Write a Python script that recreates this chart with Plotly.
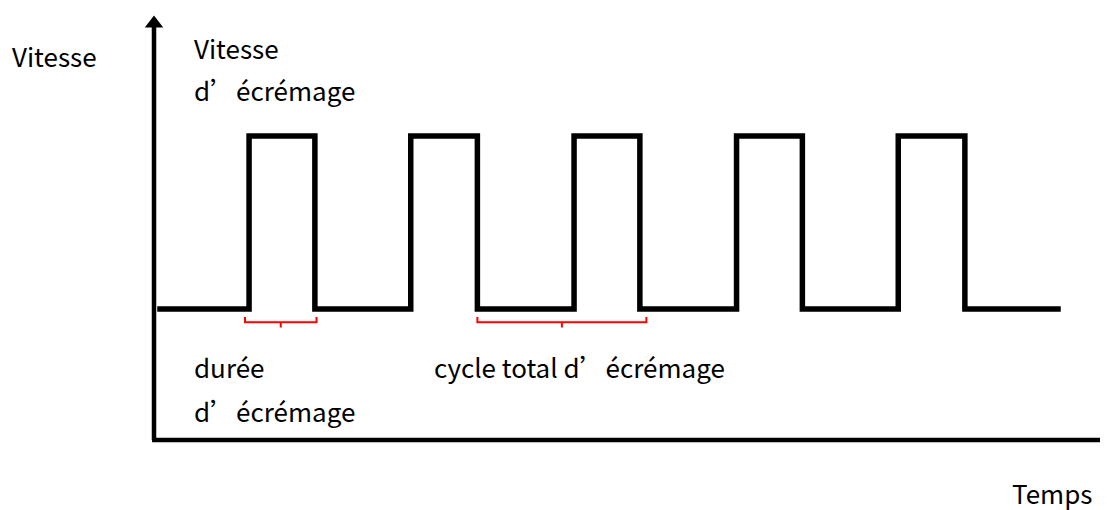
import plotly.graph_objects as go

# Square wave: speed (arbitrary units) vs time (one skimming cycle = 1)
t_start = 0.02
t_end = 5.58
rise_times = [0.585, 1.58, 2.585, 3.585, 4.58]
fall_times = [0.99, 1.99, 2.99, 3.99, 4.99]
low_speed = 1.0
high_speed = 2.32

# Brackets (time intervals) marking skim duration and total cycle
brackets = [(0.56, 1.0), (1.99, 3.03)]

# page body has an 8px margin, so the figure is shrunk to fit the window
OFF = 8
W, H = 1100, 502
X_RANGE = [-0.8985, 5.8708]
Y_RANGE = [-0.534, 3.298]
FONT = "Noto Sans CJK SC"

# Build the wave path
wave_x, wave_y = [t_start], [low_speed]
for r, f in zip(rise_times, fall_times):
    wave_x += [r, r, f, f]
    wave_y += [low_speed, high_speed, high_speed, low_speed]
wave_x.append(t_end)
wave_y.append(low_speed)

fig = go.Figure()

# Axes with arrows
fig.add_trace(go.Scatter(x=[0, 0], y=[0, 3.16], mode="lines",
                         line=dict(color="black", width=4.5), hoverinfo="skip"))
fig.add_trace(go.Scatter(x=[-0.012, 5.86], y=[0, 0], mode="lines",
                         line=dict(color="black", width=4.5), hoverinfo="skip"))
fig.add_trace(go.Scatter(x=[0], y=[3.18], mode="markers",
                         marker=dict(symbol="triangle-up", size=16, color="black"), hoverinfo="skip"))
fig.add_trace(go.Scatter(x=[5.90], y=[0], mode="markers",
                         marker=dict(symbol="triangle-right", size=16, color="black"),
                         cliponaxis=False, hoverinfo="skip"))

# Wave
fig.add_trace(go.Scatter(x=wave_x, y=wave_y, mode="lines",
                         line=dict(color="black", width=5.5),
                         hoverinfo="skip"))

# Red brackets
for a, b in brackets:
    c = (a + b) / 2
    fig.add_trace(go.Scatter(
        x=[a, a, c, c, c, b, b],
        y=[0.94, 0.90, 0.90, 0.86, 0.90, 0.90, 0.94],
        mode="lines", line=dict(color="#ff0000", width=2), hoverinfo="skip"))

labels = [
    ("Vitesse", 10, 55),
    ("Vitesse", 192, 47),
    ("d’écrémage", 192, 90),
    ("durée", 192, 366),
    ("d’écrémage", 192, 410),
    ("cycle total d’écrémage", 432, 366),
    ("Temps", 1010, 492),
]
for text, px_, py_ in labels:
    fig.add_annotation(text=text, xref="paper", yref="paper",
                       x=(px_ - OFF) / W, y=1 - (py_ - OFF) / H,
                       xanchor="left", yanchor="middle",
                       showarrow=False, font=dict(family=FONT, size=26, color="black"))

fig.update_layout(
    width=W, height=H,
    margin=dict(l=0, r=0, t=0, b=0),
    paper_bgcolor="white", plot_bgcolor="white",
    showlegend=False,
)
fig.update_xaxes(range=X_RANGE, visible=False, fixedrange=True)
fig.update_yaxes(range=Y_RANGE, visible=False, fixedrange=True)

fig.write_html("out.html")
